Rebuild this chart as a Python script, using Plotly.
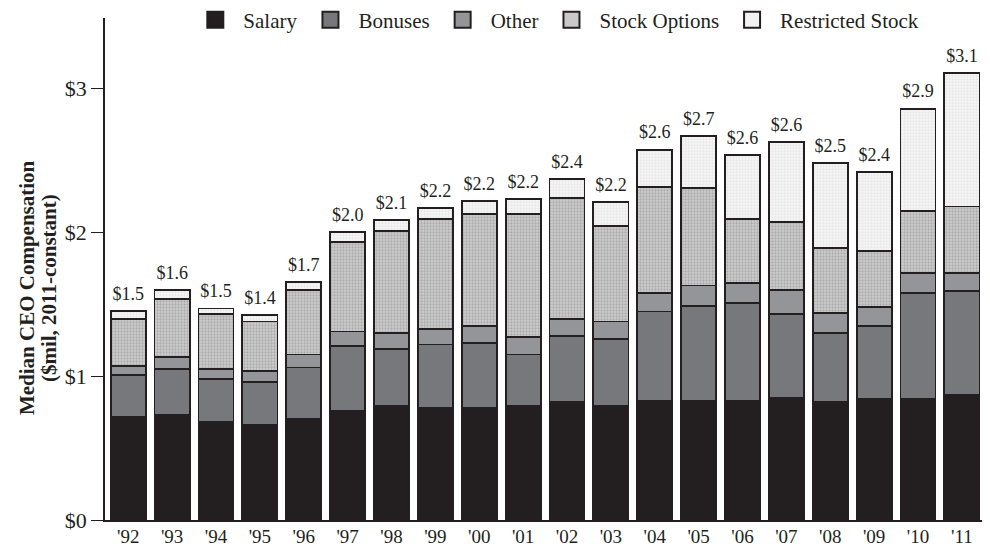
import plotly.graph_objects as go

years = ["'92", "'93", "'94", "'95", "'96", "'97", "'98", "'99", "'00", "'01",
         "'02", "'03", "'04", "'05", "'06", "'07", "'08", "'09", "'10", "'11"]

salary = [0.72, 0.73, 0.68, 0.66, 0.70, 0.76, 0.79, 0.78, 0.78, 0.79,
          0.82, 0.79, 0.83, 0.83, 0.83, 0.85, 0.82, 0.84, 0.84, 0.87]
bonuses = [0.29, 0.32, 0.30, 0.30, 0.36, 0.45, 0.40, 0.44, 0.45, 0.36,
           0.46, 0.47, 0.62, 0.66, 0.68, 0.58, 0.48, 0.51, 0.74, 0.72]
other = [0.06, 0.085, 0.07, 0.075, 0.09, 0.10, 0.11, 0.11, 0.12, 0.12,
         0.12, 0.12, 0.13, 0.14, 0.14, 0.17, 0.14, 0.13, 0.14, 0.13]
stock_options = [0.33, 0.40, 0.38, 0.345, 0.45, 0.62, 0.71, 0.76, 0.78, 0.86,
                 0.84, 0.665, 0.735, 0.68, 0.44, 0.47, 0.45, 0.39, 0.43, 0.46]
restricted = [0.055, 0.065, 0.04, 0.045, 0.055, 0.07, 0.075, 0.08, 0.09, 0.10,
              0.13, 0.165, 0.26, 0.36, 0.45, 0.56, 0.59, 0.55, 0.71, 0.93]
total_labels = ["$1.5", "$1.6", "$1.5", "$1.4", "$1.7", "$2.0", "$2.1", "$2.2", "$2.2", "$2.2",
                "$2.4", "$2.2", "$2.6", "$2.7", "$2.6", "$2.6", "$2.5", "$2.4", "$2.9", "$3.1"]

ytick_vals = [0, 1, 2, 3]
ytick_text = ["$0", "$1", "$2", "$3"]
ytitle_lines = ["Median CEO Compensation", "($mil, 2011-constant)"]

totals = [a + b + c + d + e for a, b, c, d, e in zip(salary, bonuses, other, stock_options, restricted)]

FONT = "Liberation Serif"
EDGE = "#231f20"

fig = go.Figure()

series = [
    ("Salary", salary, "#231f20", None),
    ("Bonuses", bonuses, "#77787b", None),
    ("Other", other, "#939598", None),
    ("Stock Options", stock_options, "#c9c9c9",
     dict(shape=".", bgcolor="#cecece", fgcolor="#888888", size=3, solidity=0.45)),
    ("Restricted Stock", restricted, "#f2f2f2",
     dict(shape=".", bgcolor="#f5f5f5", fgcolor="#dcdcdc", size=3, solidity=0.45)),
]

for name, vals, color, pattern in series:
    marker = dict(color=color, line=dict(color=EDGE, width=1.8))
    if pattern:
        marker["pattern"] = pattern
    fig.add_trace(go.Bar(x=years, y=vals, name=name, marker=marker, showlegend=False))

# legend entries with larger square symbols
for name, vals, color, pattern in series:
    fig.add_trace(go.Scatter(
        x=[years[0]], y=[None], mode="markers", name=name,
        marker=dict(symbol="square", size=16, color=color, line=dict(color=EDGE, width=2)),
        hoverinfo="skip"))

# total labels above bars (invisible marker pushes text up a little)
fig.add_trace(go.Scatter(
    x=years, y=totals, mode="markers+text", text=total_labels, textposition="top center",
    marker=dict(size=9, color="rgba(0,0,0,0)"),
    textfont=dict(family=FONT, size=18, color=EDGE), showlegend=False, hoverinfo="skip"))

# y-axis title, two rotated lines
for line, xpos in zip(ytitle_lines, [-0.0881, -0.0633]):
    fig.add_annotation(text="<b>" + line + "</b>", xref="paper", yref="paper",
                       x=xpos, y=0.462, xanchor="center", yanchor="middle",
                       textangle=-90, showarrow=False,
                       font=dict(family=FONT, size=21, color=EDGE))

fig.update_layout(
    barmode="stack",
    bargap=0.2,
    width=982, height=540,
    margin=dict(l=97, r=0, t=10, b=28, autoexpand=False),
    plot_bgcolor="white", paper_bgcolor="white",
    font=dict(family=FONT, size=20, color=EDGE),
    legend=dict(orientation="h", x=0.093, xanchor="left",
                yref="container", y=1 - 12 / 540, yanchor="middle",
                font=dict(family=FONT, size=21, color=EDGE), bgcolor="rgba(0,0,0,0)",
                traceorder="normal", itemwidth=46),
    xaxis=dict(range=[-0.53, 19.64], showline=True, linecolor=EDGE, linewidth=1.5,
               ticks="", showgrid=False, ticklabelstandoff=-2,
               tickfont=dict(family=FONT, size=19, color=EDGE)),
    yaxis=dict(range=[0, 3.49], showline=True, linecolor=EDGE, linewidth=1.5,
               ticks="outside", ticklen=12, tickcolor=EDGE, tickwidth=1.2,
               tickvals=ytick_vals, ticktext=ytick_text, showgrid=False, zeroline=False,
               tickfont=dict(family=FONT, size=22, color=EDGE)),
)

fig.write_html("out.html")
